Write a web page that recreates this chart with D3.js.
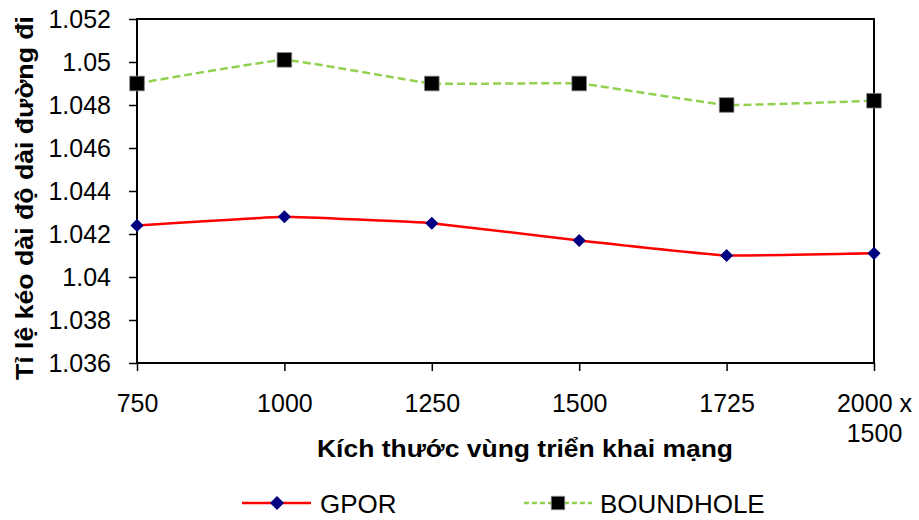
<!DOCTYPE html>
<html>
<head>
<meta charset="utf-8">
<script src="https://cdn.jsdelivr.net/npm/d3@7"></script>
<style>
  body { margin: 0; background: #fff; }
  text { font-family: "Liberation Sans", Arial, sans-serif; }
</style>
</head>
<body>
<svg width="919" height="520"></svg>
<script>
// data
const sizes = ["750", "1000", "1250", "1500", "1725", "2000 x 1500"];
const gpor = [1.0424, 1.0428, 1.0425, 1.0417, 1.0410, 1.0411];
const boundhole = [1.0490, 1.0501, 1.0490, 1.0490, 1.0480, 1.0482];
const yTicks = [1.036, 1.038, 1.04, 1.042, 1.044, 1.046, 1.048, 1.05, 1.052];

const svg = d3.select('svg');
const plotL = 137, plotR = 874, plotT = 19, plotB = 363;

const x = d3.scalePoint().domain(sizes).range([plotL, plotR]);
const y = d3.scaleLinear().domain([1.036, 1.052]).range([plotB, plotT]);

// frame
svg.append('rect')
    .attr('x', plotL).attr('y', plotT)
    .attr('width', plotR - plotL).attr('height', plotB - plotT)
    .style('fill', 'none')
    .style('stroke', 'black')
    .style('stroke-width', 2);

// y axis
const yAxis = svg.append('g')
    .attr('transform', `translate(${plotL},0)`)
    .call(d3.axisLeft(y).tickValues(yTicks).tickSize(8).tickPadding(18)
        .tickFormat(d => String(+d.toFixed(3))));
yAxis.select('.domain').remove();
yAxis.selectAll('line').style('stroke', 'black').style('stroke-width', 1.5);
yAxis.selectAll('text').style('font-size', '25px').attr('fill', 'black')
    .attr('font-family', '"Liberation Sans", Arial, sans-serif');

// x axis
const xAxis = svg.append('g')
    .attr('transform', `translate(0,${plotB})`)
    .call(d3.axisBottom(x).tickSize(8));
xAxis.select('.domain').remove();
xAxis.selectAll('line').style('stroke', 'black').style('stroke-width', 1.5);
xAxis.selectAll('text').remove();
xAxis.selectAll('.tick').append('text')
    .attr('fill', 'black')
    .attr('font-family', '"Liberation Sans", Arial, sans-serif')
    .style('font-size', '25px')
    .attr('text-anchor', 'middle')
    .each(function(d) {
        const parts = d === "2000 x 1500" ? ["2000 x", "1500"] : [d];
        const t = d3.select(this);
        parts.forEach((p, i) => {
            t.append('tspan').attr('x', 0).attr('y', 49 + i * 30).text(p);
        });
    });

// axis titles
svg.append('text')
    .attr('x', 317)
    .attr('y', 457)
    .attr('textLength', 416)
    .attr('lengthAdjust', 'spacingAndGlyphs')
    .style('font-size', '23px')
    .style('font-weight', 'bold')
    .text('Kích thước vùng triển khai mạng');

svg.append('text')
    .attr('transform', 'translate(33,380) rotate(-90)')
    .attr('textLength', 364)
    .attr('lengthAdjust', 'spacingAndGlyphs')
    .style('font-size', '24px')
    .style('font-weight', 'bold')
    .text('Tỉ lệ kéo dài độ dài đường đi');

// lines
const line = d3.line()
    .x((d, i) => x(sizes[i]))
    .y(d => y(d))
    .curve(d3.curveCardinal.tension(0.75));

svg.append('path')
    .datum(boundhole)
    .attr('d', line)
    .style('fill', 'none')
    .style('stroke', '#92d050')
    .style('stroke-width', 2.5)
    .style('stroke-dasharray', '8,4');

svg.append('path')
    .datum(gpor)
    .attr('d', line)
    .style('fill', 'none')
    .style('stroke', '#ff0000')
    .style('stroke-width', 2.5);

// markers
const diamond = d3.symbol().type(d3.symbolDiamond2).size(110);
const square = d3.symbol().type(d3.symbolSquare).size(215);

svg.selectAll('.gp')
    .data(gpor)
    .enter()
    .append('path')
    .attr('class', 'gp')
    .attr('d', diamond)
    .attr('transform', (d, i) => `translate(${x(sizes[i])},${y(d)})`)
    .style('fill', '#000080');

svg.selectAll('.bh')
    .data(boundhole)
    .enter()
    .append('path')
    .attr('class', 'bh')
    .attr('d', square)
    .attr('transform', (d, i) => `translate(${x(sizes[i])},${y(d)})`)
    .style('fill', 'black')
    .style('stroke', '#888')
    .style('stroke-width', 0.8);

// legend
const legendDiamond = d3.symbol().type(d3.symbolDiamond2).size(125);
const legendSquare = d3.symbol().type(d3.symbolSquare).size(180);
const lg = svg.append('g');
lg.append('line').attr('x1', 242).attr('x2', 311).attr('y1', 503).attr('y2', 503)
    .style('stroke', '#ff0000').style('stroke-width', 2.5);
lg.append('path').attr('d', legendDiamond).attr('transform', 'translate(277,503)')
    .style('fill', '#000080');
lg.append('text').attr('x', 320).attr('y', 513).style('font-size', '26px').text('GPOR');

lg.append('line').attr('x1', 524).attr('x2', 592).attr('y1', 503).attr('y2', 503)
    .style('stroke', '#92d050').style('stroke-width', 2.5).style('stroke-dasharray', '5,3');
lg.append('path').attr('d', legendSquare).attr('transform', 'translate(558,503)')
    .style('fill', 'black').style('stroke', '#888').style('stroke-width', 0.8);
lg.append('text').attr('x', 600).attr('y', 513).style('font-size', '26px').text('BOUNDHOLE');
</script>
</body>
</html>
